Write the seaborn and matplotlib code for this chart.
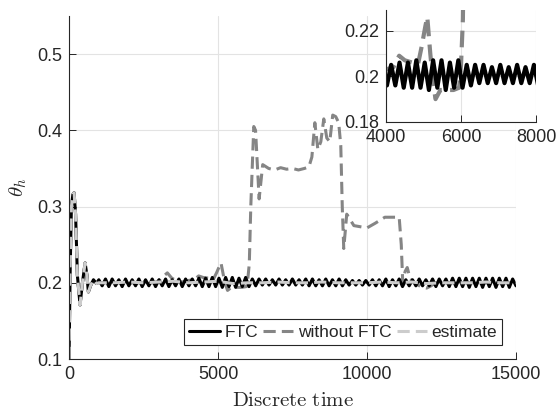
import numpy as np
import pandas as pd
import seaborn as sns
import matplotlib.pyplot as plt

# ---- FTC (black) : start-up transient + steady oscillation
ftc_t_start = [0, 40, 80, 130, 170, 220, 280, 370, 450, 540, 600, 650, 720, 820, 920]
ftc_v_start = [0.10, 0.22, 0.30, 0.316, 0.318, 0.29, 0.21, 0.171, 0.20, 0.226, 0.21, 0.188, 0.196, 0.204, 0.199]
ftc_t_osc = np.arange(1000, 15001, 112)
ftc_v_osc = [
    0.204, 0.196, 0.205, 0.195, 0.205, 0.196, 0.204, 0.195, 0.205, 0.196,
    0.204, 0.196, 0.205, 0.195, 0.204, 0.196, 0.205, 0.195, 0.204, 0.196,
    0.205, 0.195, 0.204, 0.196, 0.205, 0.195, 0.205, 0.196, 0.205, 0.196,
    0.206, 0.195, 0.206, 0.195, 0.207, 0.195, 0.206, 0.194, 0.207, 0.195,
    0.207, 0.194, 0.206, 0.195, 0.207, 0.195, 0.205, 0.196, 0.205, 0.197,
    0.205, 0.197, 0.204, 0.197, 0.205, 0.197, 0.204, 0.197, 0.205, 0.197,
    0.204, 0.197, 0.205, 0.196, 0.205, 0.196, 0.204, 0.196, 0.205, 0.196,
    0.204, 0.196, 0.205, 0.196, 0.204, 0.197, 0.203, 0.197, 0.203, 0.197,
    0.203, 0.197, 0.204, 0.196, 0.204, 0.196, 0.205, 0.195, 0.204, 0.196,
    0.205, 0.195, 0.204, 0.196, 0.204, 0.196, 0.205, 0.196, 0.204, 0.196,
    0.205, 0.195, 0.205, 0.196, 0.205, 0.195, 0.206, 0.195, 0.206, 0.195,
    0.206, 0.194, 0.206, 0.195, 0.206, 0.194, 0.206, 0.195, 0.206, 0.194,
    0.206, 0.195, 0.206, 0.194, 0.205, 0.196,
]

# ---- without FTC (mid grey)
nofault_t = [0, 40, 80, 130, 170, 220, 280, 370, 450, 540, 600, 650, 720, 820, 920,
             1000, 2000, 2800, 3000, 3150, 3300, 3450, 3600, 3800, 4000, 4200, 4350,
             4500, 4700, 4850, 4950, 5050, 5100, 5180, 5250, 5320, 5450, 5600, 5800,
             5950, 6000, 6050, 6100, 6200, 6260, 6380, 6500, 6700, 6900, 7100, 7300,
             7500, 7700, 7900, 8050, 8150, 8250, 8350, 8450, 8550, 8650, 8750, 8850,
             8950, 9050, 9120, 9170, 9220, 9320, 9560, 10000, 10270, 10600, 11080,
             11150, 11200, 11280, 11350, 11450, 11600, 11800, 12000, 12150, 12300,
             13000, 14000, 15000]
nofault_v = [0.10, 0.22, 0.30, 0.316, 0.318, 0.29, 0.21, 0.171, 0.20, 0.226, 0.21, 0.188, 0.196, 0.204, 0.199,
             0.200, 0.200, 0.200, 0.202, 0.208, 0.213, 0.206, 0.203, 0.201, 0.203, 0.204, 0.209,
             0.207, 0.206, 0.205, 0.213, 0.222, 0.226, 0.210, 0.198, 0.190, 0.194, 0.194, 0.194,
             0.195, 0.205, 0.225, 0.300, 0.405, 0.400, 0.310, 0.355, 0.350, 0.348, 0.351, 0.349,
             0.350, 0.348, 0.350, 0.352, 0.365, 0.410, 0.375, 0.385, 0.415, 0.390, 0.385, 0.420,
             0.418, 0.410, 0.380, 0.300, 0.245, 0.290, 0.275, 0.272, 0.278, 0.286, 0.286,
             0.250, 0.200, 0.215, 0.220, 0.205, 0.200, 0.195, 0.193, 0.196, 0.200,
             0.200, 0.200, 0.200]

# ---- estimate (light grey)
est_t = [0, 40, 80, 130, 170, 220, 280, 370, 450, 540, 600, 650, 720, 820, 920,
         1000, 1500, 2000, 2500, 3000, 3500, 4000, 4500, 5000, 5500, 6000, 6500, 7000,
         7500, 8000, 8500, 9000, 9500, 10000, 10500, 11000, 11500, 12000, 12500, 13000,
         13500, 14000, 14500, 15000]
est_v = [0.10, 0.22, 0.30, 0.316, 0.318, 0.29, 0.21, 0.171, 0.20, 0.226, 0.21, 0.188, 0.196, 0.204, 0.199,
         0.200, 0.200, 0.201, 0.200, 0.201, 0.202, 0.200, 0.201, 0.202, 0.199, 0.200, 0.200, 0.201,
         0.200, 0.200, 0.201, 0.200, 0.200, 0.200, 0.201, 0.200, 0.201, 0.199, 0.200, 0.200,
         0.200, 0.201, 0.200, 0.200]

ftc = pd.DataFrame({"t": list(ftc_t_start) + list(ftc_t_osc), "v": ftc_v_start + ftc_v_osc})
nofault = pd.DataFrame({"t": nofault_t, "v": nofault_v})
est = pd.DataFrame({"t": est_t, "v": est_v})

sns.set_style("whitegrid", {"grid.color": "#e3e3e3", "axes.edgecolor": "#262626"})
plt.rcParams['font.family'] = ['Liberation Sans', 'DejaVu Sans']
plt.rcParams['mathtext.fontset'] = 'cm'

c_ftc, c_nof, c_est = "black", "#858585", "#cccccc"


def draw(a, lw, with_est=True):
    sns.lineplot(data=nofault, x="t", y="v", ax=a, color=c_nof, lw=lw, dashes=False,
                 estimator=None, sort=False, label="without FTC").lines[-1].set_dashes([4, 2])
    sns.lineplot(data=ftc, x="t", y="v", ax=a, color=c_ftc, lw=lw,
                 estimator=None, sort=False, label="FTC")
    if with_est:
        sns.lineplot(data=est, x="t", y="v", ax=a, color=c_est, lw=lw,
                     estimator=None, sort=False, label="estimate").lines[-1].set_dashes([4, 2])


def style(a):
    for s in ["top", "right"]:
        a.spines[s].set_visible(False)
    for s in ["left", "bottom"]:
        a.spines[s].set_linewidth(0.8)
    a.tick_params(direction="in", length=5, width=0.7, labelsize=13, pad=5,
                  bottom=True, left=True, colors="#262626", labelcolor="#262626")
    a.grid(True, lw=0.8)
    a.set_axisbelow(True)
    a.set_xlabel("")
    a.set_ylabel("")


fig = plt.figure(figsize=(5.58, 4.12), dpi=100)
ax = fig.add_axes([0.1237, 0.1286, 0.801, 0.8326])

draw(ax, 2.2)
style(ax)
ax.set_xlim(0, 15000)
ax.set_ylim(0.1, 0.55)
ax.set_xticks([0, 5000, 10000, 15000])
ax.set_xticklabels(["0", "5000", "10000", "15000"])
ax.set_yticks([0.1, 0.2, 0.3, 0.4, 0.5])
ax.set_yticklabels(["0.1", "0.2", "0.3", "0.4", "0.5"])
ax.set_xlabel(r"$\mathrm{Discrete\ time}$", fontsize=15, labelpad=6)
ax.set_ylabel(r"$\theta_h$", fontsize=15, labelpad=6)

h, l = ax.get_legend_handles_labels()
order = [l.index("FTC"), l.index("without FTC"), l.index("estimate")]
leg = ax.legend([h[i] for i in order], [l[i] for i in order], ncol=3, loc="lower right",
                bbox_to_anchor=(0.969, 0.041), frameon=True, fancybox=False, fontsize=12.5,
                handlelength=1.75, handletextpad=0.25, columnspacing=0.3, borderpad=0.3,
                borderaxespad=0)
leg.get_frame().set_edgecolor("#262626")
leg.get_frame().set_linewidth(0.8)
leg.get_frame().set_alpha(1)
leg.set_zorder(10)

ins = fig.add_axes([0.6918, 0.7039, 0.2688, 0.2718])
ins.set_facecolor("white")
draw(ins, 3.0, with_est=False)
style(ins)
if ins.get_legend() is not None:
    ins.get_legend().remove()
ins.set_xlim(4000, 8000)
ins.set_ylim(0.18, 0.229)
ins.set_xticks([4000, 6000, 8000])
ins.set_xticklabels(["4000", "6000", "8000"])
ins.set_yticks([0.18, 0.2, 0.22])
ins.set_yticklabels(["0.18", "0.2", "0.22"])

fig.savefig("out.png", dpi=100)
